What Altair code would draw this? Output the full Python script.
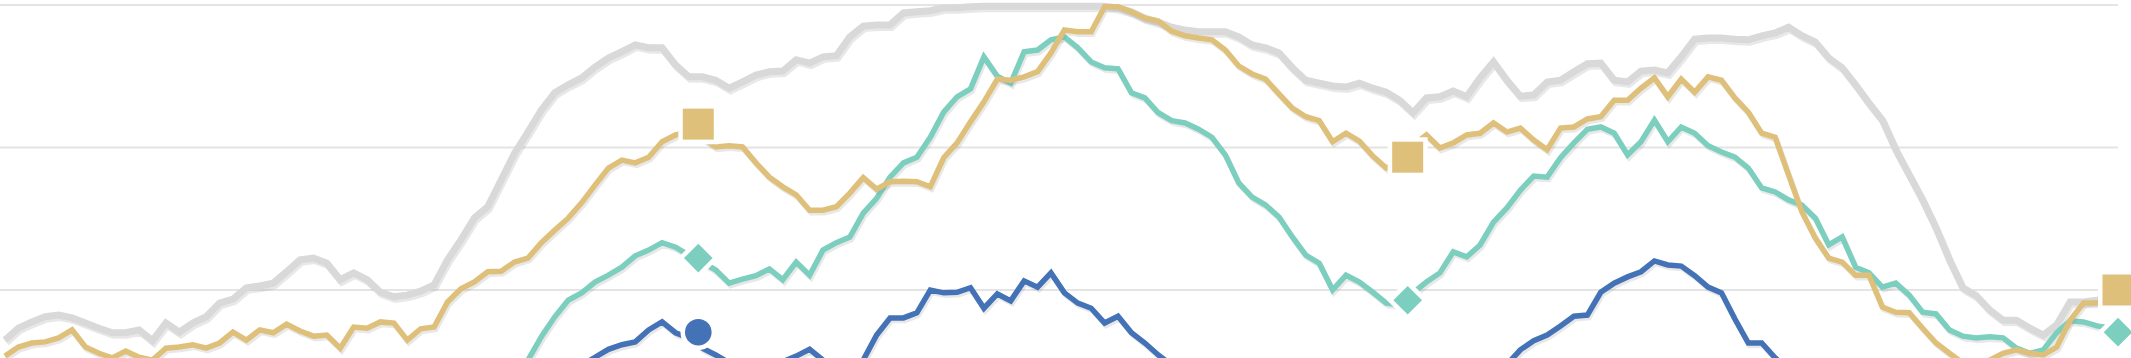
import altair as alt
import pandas as pd

# ---------------- data ----------------
# weekly index 0..157 ; values on a 0-100 scale (grid lines at 50, 75, 100)
gray = [41.2, 43.3, 44.4, 45.3, 45.6, 45.1, 44.2, 43.3, 42.5, 42.5,
        43.0, 41.1, 44.2, 42.6, 44.2, 45.3, 47.7, 48.4, 50.4, 50.7,
        51.2, 53.2, 55.3, 55.6, 54.7, 51.8, 53.0, 51.8, 49.6, 48.8,
        49.1, 49.8, 50.9, 55.3, 58.8, 62.6, 64.6, 69.3, 74.0, 77.7,
        81.6, 84.6, 86.0, 87.2, 89.1, 90.7, 91.8, 93.0, 92.5, 92.5,
        89.5, 87.4, 87.4, 86.8, 85.4, 86.5, 87.7, 88.3, 88.4, 90.4,
        89.8, 90.9, 91.1, 94.4, 96.3, 96.5, 96.5, 98.6, 98.8, 99.0,
        99.5, 99.5, 99.7, 99.8, 99.8, 99.8, 99.8, 99.8, 99.8, 99.8,
        99.8, 99.8, 99.8, 99.5, 98.8, 97.7, 97.0, 96.1, 95.6, 95.3,
        95.3, 95.3, 94.4, 93.0, 92.5, 91.6, 89.0, 86.8, 86.3, 85.8,
        85.6, 86.3, 85.4, 84.7, 83.3, 81.1, 83.7, 83.9, 84.9, 83.9,
        87.2, 90.0, 86.8, 84.0, 84.2, 86.5, 86.8, 88.3, 89.7, 89.8,
        86.8, 86.5, 88.4, 88.6, 88.1, 90.9, 94.0, 94.2, 94.2, 94.0,
        93.9, 94.6, 95.1, 96.1, 94.6, 93.5, 90.7, 89.0, 86.0, 82.8,
        79.8, 74.6, 70.2, 65.8, 60.9, 55.3, 50.4, 49.0, 46.5, 44.7,
        44.7, 43.3, 42.1, 43.9, 47.9, 47.9, 48.2, 48.6]

gold = [38.4, 40.0, 40.7, 40.9, 41.6, 43.0, 40.0, 38.9, 38.1, 39.3,
        38.2, 37.7, 39.8, 40.0, 40.4, 39.8, 40.7, 42.6, 41.2, 43.0,
        42.5, 44.0, 42.8, 41.9, 42.1, 39.8, 43.5, 43.3, 44.4, 44.2,
        41.2, 43.2, 43.5, 47.9, 50.2, 51.4, 53.2, 53.3, 54.9, 55.6,
        58.3, 60.5, 62.6, 65.3, 68.4, 71.4, 72.8, 72.3, 73.3, 76.0,
        77.2, 77.7, 76.7, 75.1, 75.3, 75.1, 72.3, 69.8, 68.1, 66.7,
        64.0, 64.0, 64.6, 67.0, 69.7, 67.7, 69.0, 69.1, 69.0, 68.1,
        73.2, 75.8, 79.5, 83.0, 87.0, 86.8, 87.4, 88.3, 91.6, 95.6,
        95.3, 95.3, 99.7, 99.7, 98.8, 97.7, 97.2, 95.4, 94.6, 94.2,
        93.9, 92.1, 89.3, 87.9, 87.0, 84.4, 81.9, 80.4, 79.7, 76.0,
        77.5, 76.1, 73.5, 71.4, 72.5, 75.4, 77.2, 74.9, 75.8, 77.2,
        77.5, 79.3, 77.7, 78.4, 76.3, 74.6, 78.4, 78.6, 80.0, 80.4,
        83.3, 83.3, 85.4, 87.2, 83.9, 87.0, 84.7, 87.4, 86.8, 83.7,
        81.2, 77.5, 76.8, 70.2, 63.7, 59.1, 55.6, 54.9, 52.6, 52.6,
        47.0, 46.1, 46.0, 43.3, 40.7, 38.9, 37.2, 36.8, 37.7, 38.9,
        39.5, 38.9, 38.6, 40.0, 44.7, 47.7, 47.7, 48.8]

teal_start = 37
teal = [31.6, 35.1, 37.7, 41.8, 45.3, 48.2, 49.5, 51.4, 52.6, 54.0,
        56.0, 57.0, 58.3, 57.5, 56.1, 54.9, 53.5, 51.2, 51.9, 52.5,
        53.7, 51.8, 54.9, 52.6, 57.0, 58.3, 59.3, 63.5, 66.1, 69.8,
        72.3, 73.3, 76.8, 81.2, 83.9, 85.3, 90.9, 87.5, 86.3, 91.8,
        92.1, 93.9, 94.4, 92.5, 90.0, 89.0, 88.8, 84.6, 83.7, 81.1,
        79.7, 79.3, 78.2, 76.8, 73.7, 68.8, 66.3, 64.9, 62.8, 59.3,
        56.1, 54.7, 50.0, 52.6, 51.4, 49.6, 47.7, 47.4, 49.5, 51.4,
        53.0, 56.7, 55.8, 57.9, 61.9, 64.4, 67.5, 70.0, 69.8, 73.2,
        75.8, 78.2, 78.6, 77.5, 73.7, 76.0, 79.8, 76.0, 78.6, 77.5,
        75.3, 74.2, 73.3, 71.4, 67.9, 67.2, 65.8, 64.9, 62.6, 57.9,
        59.3, 54.0, 53.0, 50.5, 51.2, 49.1, 46.1, 45.8, 43.0, 41.9,
        41.6, 41.8, 41.6, 39.8, 38.9, 39.5, 42.5, 44.6, 44.4, 43.7,
        43.3]

blue_start = 40
blue = [31.6, 33.3, 35.1, 36.8, 38.2, 39.6, 40.4, 40.9, 43.0, 44.4,
        42.5, 41.6, 39.8, 38.6, 37.2, 36.0, 35.6, 36.3, 37.4, 38.4,
        39.6, 37.7, 36.0, 36.0, 37.7, 42.1, 45.1, 45.1, 46.0, 50.0,
        49.5, 49.6, 50.4, 46.8, 49.3, 48.1, 51.6, 50.5, 53.0, 49.5,
        47.7, 46.8, 44.2, 45.4, 42.5, 40.7, 38.6, 36.8, 35.6, 34.2,
        33.0, 32.1, 31.5, 30.6, 30.2, 29.4, 29.8, 28.9, 28.5, 29.1,
        28.7, 29.5, 29.0, 30.2, 30.8, 31.1, 31.9, 32.4, 33.5, 33.9,
        34.8, 35.6, 36.9, 39.5, 41.1, 42.1, 43.7, 45.4, 45.6, 49.6,
        51.2, 52.3, 53.2, 55.1, 54.4, 54.2, 52.5, 50.5, 49.5, 44.9,
        40.7, 40.7, 38.1, 36.0, 34.6, 33.5, 32.8, 31.9, 31.2, 30.6,
        30.1, 29.5, 29.2, 28.8, 28.9, 28.4, 28.6, 28.1, 28.3, 27.9,
        28.2, 27.8, 28.0, 27.6, 27.9, 27.5, 27.7, 27.4]

# yearly marker points (position in weeks, value)
marker_w = [51.7, 104.6, 157.57]
gold_marks = [79.1, 73.3, 50.0]
teal_marks = [55.6, 48.2, 42.6]
blue_marks = [42.6, 31.0, 27.4]

grid_values = [50, 75, 100]

# ---------------- styling ----------------
C_GRAY, C_GOLD, C_TEAL, C_BLUE = "#d9d9d9", "#dfc07b", "#7ccfbf", "#4472b6"
W, H = 2118, 570
xs = alt.Scale(domain=[-0.373, 157.57], nice=False, zero=False)
ys = alt.Scale(domain=[0, 100], nice=False, zero=False)


def series_df(vals, start, mw=None, mv=None):
    rows = [(start + i, v) for i, v in enumerate(vals)]
    if mw is not None:
        rows += [(w, v) for w, v in zip(mw, mv) if w >= start]
    rows.sort()
    return pd.DataFrame(rows, columns=["w", "v"])


d_gray = series_df(gray, 0)
d_gold = series_df(gold, 0, marker_w, gold_marks)
d_teal = series_df(teal, teal_start, marker_w, teal_marks)
d_blue = series_df(blue, blue_start, marker_w, blue_marks)

enc = dict(x=alt.X("w:Q", scale=xs, axis=None), y=alt.Y("v:Q", scale=ys, axis=None))

grid = alt.Chart(pd.DataFrame({"g": grid_values})).mark_rule(
    color="#e4e4e4", strokeWidth=2
).encode(y=alt.Y("g:Q", scale=ys, axis=None))

layers = [grid]
specs = [(d_gray, C_GRAY, 7), (d_blue, C_BLUE, 5.5), (d_teal, C_TEAL, 5.5), (d_gold, C_GOLD, 5.5)]
for d, c, sw in specs:
    layers.append(alt.Chart(d).mark_line(color="#8a8a8a", opacity=0.2, strokeWidth=sw,
                                         xOffset=1.5, yOffset=2.5).encode(**enc))
    layers.append(alt.Chart(d).mark_line(color=c, strokeWidth=sw).encode(**enc))

mdf = pd.DataFrame({"w": marker_w, "gold": gold_marks, "teal": teal_marks, "blue": blue_marks})
for col, shape, size, c in [("gold", "square", 961, C_GOLD),
                            ("teal", "diamond", 820, C_TEAL),
                            ("blue", "circle", 707, C_BLUE)]:
    e = dict(x=alt.X("w:Q", scale=xs, axis=None), y=alt.Y(f"{col}:Q", scale=ys, axis=None))
    layers.append(alt.Chart(mdf).mark_point(shape=shape, size=size, filled=True, fill="white",
                                            stroke="white", strokeWidth=9, opacity=1).encode(**e))
    layers.append(alt.Chart(mdf).mark_point(shape=shape, size=size, filled=True, color=c,
                                            opacity=1, strokeWidth=0).encode(**e))

chart = alt.layer(*layers).properties(
    width=W, height=H,
    autosize=alt.AutoSizeParams(type="none"),
    padding={"left": 0, "top": 5, "right": 13, "bottom": 0},
    background="white",
).configure_view(stroke=None)

chart.save("out.html", embed_options={"renderer": "svg", "actions": False})
